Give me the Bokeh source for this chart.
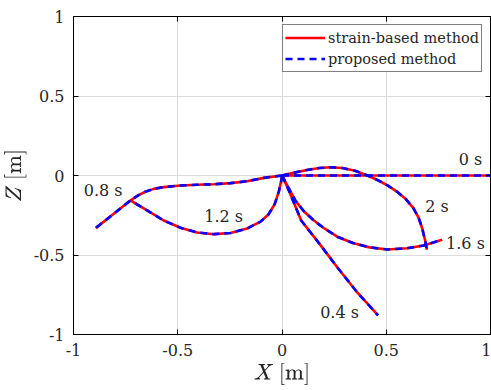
from bokeh.plotting import figure
from bokeh.models import Range1d, LinearAxis, FixedTicker, ColumnDataSource, Legend, LegendItem, TeX
from bokeh.core.properties import value
from bokeh.embed import file_html
from bokeh.resources import INLINE

# ---- data ----
x_0s = [0.0, 0.25, 0.5, 0.75, 1.0]
z_0s = [0.0, 0.0, 0.0, 0.0, 0.0]

x_04s = [0.0, 0.033, 0.092, 0.18, 0.265, 0.36, 0.461]
z_04s = [0.0, -0.094, -0.283, -0.43, -0.577, -0.734, -0.88]

x_08s = [0.0, -0.087, -0.167, -0.247, -0.327, -0.407, -0.487, -0.567, -0.615, -0.655, -0.69, -0.727, -0.807, -0.894]
z_08s = [0.0, -0.015, -0.036, -0.048, -0.055, -0.058, -0.063, -0.073, -0.084, -0.102, -0.125, -0.157, -0.241, -0.331]

x_12s = [0.0, -0.003, -0.015, -0.035, -0.065, -0.103, -0.167, -0.247, -0.327, -0.407, -0.487, -0.567, -0.647, -0.727]
z_12s = [0.0, -0.03, -0.1, -0.18, -0.245, -0.29, -0.333, -0.362, -0.369, -0.358, -0.329, -0.283, -0.22, -0.157]

x_16s = [0.0, 0.03, 0.065, 0.105, 0.15, 0.2, 0.265, 0.34, 0.42, 0.505, 0.6, 0.68, 0.768]
z_16s = [0.0, -0.075, -0.16, -0.225, -0.28, -0.33, -0.385, -0.425, -0.452, -0.465, -0.458, -0.44, -0.404]

x_2s = [0.0, 0.06, 0.12, 0.18, 0.233, 0.29, 0.35, 0.41, 0.46, 0.51, 0.555, 0.595, 0.63, 0.655, 0.672, 0.683, 0.69, 0.695]
z_2s = [0.0, 0.018, 0.035, 0.047, 0.052, 0.047, 0.03, 0.0, -0.03, -0.065, -0.105, -0.15, -0.205, -0.265, -0.33, -0.39, -0.43, -0.467]

time_labels = ["0 s", "0.4 s", "0.8 s", "1.2 s", "1.6 s", "2 s"]
label_x = [0.904, 0.276, -0.858, -0.28, 0.88, 0.743]
label_z = [0.10, -0.862, -0.094, -0.255, -0.43, -0.198]

tick_values = [-1, -0.5, 0, 0.5, 1]
tick_labels = ["-1", "-0.5", "0", "0.5", "1"]

FONT = "DejaVu Serif"
TXT = "#262626"

xs = [x_0s, x_04s, x_08s, x_12s, x_16s, x_2s]
zs = [z_0s, z_04s, z_08s, z_12s, z_16s, z_2s]
src = ColumnDataSource(dict(xs=xs, ys=zs))

p = figure(width=491, height=390, output_backend="svg", toolbar_location=None,
           x_range=Range1d(-1, 1), y_range=Range1d(-1, 1),
           min_border_left=73, min_border_right=1, min_border_top=16, min_border_bottom=56)
p.background_fill_color = "white"
p.border_fill_color = "white"
p.outline_line_color = "black"
p.outline_line_width = 1

red = p.multi_line(xs="xs", ys="ys", source=src, line_color="#ff0000", line_width=2.6)
blue = p.multi_line(xs="xs", ys="ys", source=src, line_color="#0000ff", line_width=2.6, line_dash="7 5")

labsrc = ColumnDataSource(dict(x=label_x, y=label_z, t=time_labels))
p.text(x="x", y="y", text="t", source=labsrc, text_font=value(FONT), text_font_size="16px",
       text_align="center", text_baseline="middle", text_color=TXT)

ticker = FixedTicker(ticks=tick_values)
overrides = {v: s for v, s in zip(tick_values, tick_labels)}
for ax in [p.xaxis[0], p.yaxis[0]]:
    ax.ticker = ticker
    ax.major_label_overrides = overrides
    ax.major_label_text_font = FONT
    ax.major_label_text_font_size = "16px"
    ax.major_label_text_color = TXT
    ax.major_tick_in = 5
    ax.major_tick_out = 0
    ax.minor_tick_in = 0
    ax.minor_tick_out = 0
    ax.axis_line_color = "black"
    ax.major_tick_line_color = "black"
    ax.major_label_standoff = 9
    ax.axis_label_text_font_size = "19px"
    ax.axis_label_text_color = TXT
    ax.axis_label_standoff = 4

p.xaxis[0].axis_label = TeX(text=r"X\ [\mathrm{m}]")
p.yaxis[0].axis_label = TeX(text=r"Z\ [\mathrm{m}]")

for loc in ["right", "above"]:
    a = LinearAxis(ticker=FixedTicker(ticks=tick_values), major_tick_in=5, major_tick_out=0,
                   minor_tick_in=0, minor_tick_out=0, major_label_text_font_size="0px",
                   major_label_standoff=0, axis_line_color="black", major_tick_line_color="black")
    p.add_layout(a, loc)

for g in [p.xgrid[0], p.ygrid[0]]:
    g.ticker = ticker
    g.grid_line_color = "#dcdcdc"
    g.grid_line_width = 1

legend = Legend(items=[LegendItem(label="strain-based method", renderers=[red]),
                       LegendItem(label="proposed method", renderers=[blue])],
                location=(209, 262), orientation="vertical")
legend.border_line_color = "black"
legend.border_line_width = 1
legend.background_fill_color = "white"
legend.background_fill_alpha = 1
legend.padding = 2
legend.spacing = 0
legend.margin = 0
legend.glyph_width = 40
legend.glyph_height = 21
legend.label_height = 21
legend.label_standoff = 3
legend.label_text_font = FONT
legend.label_text_font_size = "14.5px"
legend.label_text_color = TXT
p.add_layout(legend, "center")

open("out.html", "w").write(file_html(p, INLINE))
